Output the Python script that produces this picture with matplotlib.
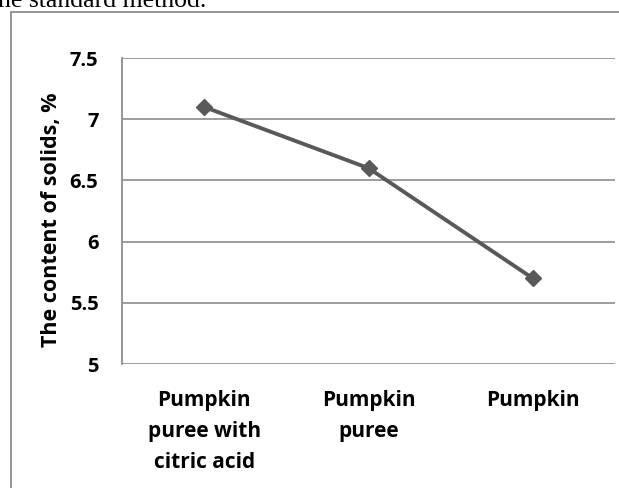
import matplotlib
matplotlib.use("Agg")
import matplotlib.pyplot as plt
from matplotlib.patches import Rectangle

categories = ["Pumpkin\npuree with\ncitric acid", "Pumpkin\npuree", "Pumpkin"]
solids = [7.1, 6.6, 5.7]
yticks = [5, 5.5, 6, 6.5, 7, 7.5]
ytick_labels = ["5", "5.5", "6", "6.5", "7", "7.5"]

W, H = 619, 488
fig = plt.figure(figsize=(W / 100, H / 100), dpi=100)
fig.patch.set_facecolor("white")

# caption line above the chart, partly cut off by the page edge
fig.text(-2 / W, 1 - 7 / H, "he standard method.", family="Liberation Serif",
         fontsize=18.5, ha="left", va="baseline", color="black")

# chart frame
fig.patches.append(Rectangle((10.5 / W, -0.1), 1.2, 1 - 12.5 / H + 0.1,
                             transform=fig.transFigure, fill=False,
                             edgecolor="#8c8c8c", linewidth=1.3))

left, right, top, bottom = 122, 615, 58, 364
ax = fig.add_axes([left / W, 1 - bottom / H, (right - left) / W, (bottom - top) / H])

x = list(range(len(categories)))
ax.plot(x, solids, color="#595959", linewidth=2.8, marker="D", markersize=8,
        markerfacecolor="#595959", markeredgecolor="#595959", zorder=3)

ax.set_xlim(-0.5, len(categories) - 0.5)
ax.set_ylim(5, 7.5)
ax.set_yticks(yticks)
ax.set_yticklabels(ytick_labels)
ax.set_xticks(x)
ax.set_xticklabels(categories, linespacing=1.6)

for lab in ax.get_yticklabels():
    lab.set_fontfamily("Open Sans")
    lab.set_fontweight("bold")
    lab.set_fontsize(14.5)
for lab in ax.get_xticklabels():
    lab.set_fontfamily("Open Sans")
    lab.set_fontweight("bold")
    lab.set_fontsize(15)
    lab.set_va("top")

ax.tick_params(axis="both", length=0, colors="black")
ax.tick_params(axis="y", pad=17)
ax.tick_params(axis="x", pad=19)

ax.yaxis.grid(True, color="#8c8c8c", linewidth=1.2)
ax.set_axisbelow(True)
for side in ["top", "right", "bottom"]:
    ax.spines[side].set_visible(False)
ax.spines["left"].set_color("#8c8c8c")
ax.spines["left"].set_linewidth(1.3)

fig.text(52 / W, 1 - 220 / H, "The content of solids, %", rotation=90,
         ha="center", va="center", family="Open Sans", weight="bold",
         fontsize=15.5, color="black")

fig.savefig("out.png", dpi=100)
